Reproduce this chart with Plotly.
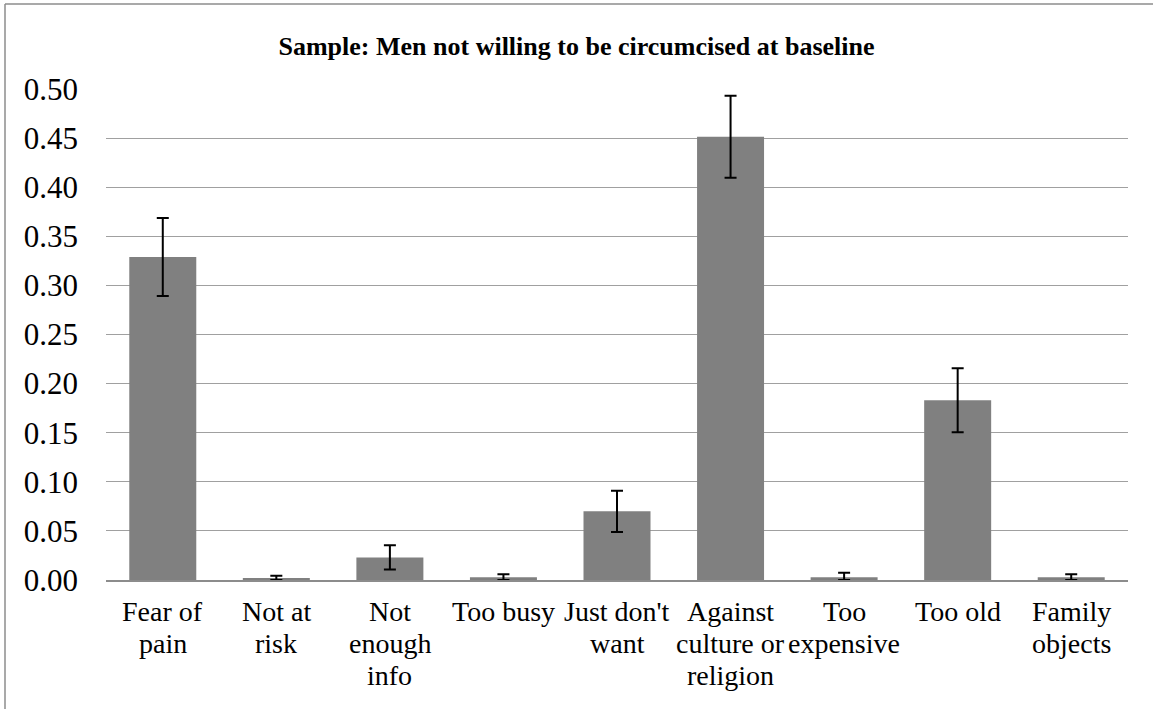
import plotly.graph_objects as go

categories = ["Fear of\npain", "Not at\nrisk", "Not\nenough\ninfo", "Too busy", "Just don't\nwant",
              "Against\nculture or\nreligion", "Too\nexpensive", "Too old", "Family\nobjects"]
values = [0.329, 0.0017, 0.023, 0.0027, 0.070, 0.4514, 0.0027, 0.183, 0.0027]
err_plus = [0.0397, 0.0027, 0.0124, 0.0031, 0.0210, 0.0418, 0.0047, 0.0326, 0.0031]
err_minus = [0.0397, 0.0017, 0.0124, 0.0027, 0.0210, 0.0418, 0.0027, 0.0326, 0.0027]
y_ticks = [0.0, 0.05, 0.10, 0.15, 0.20, 0.25, 0.30, 0.35, 0.40, 0.45, 0.50]
title_text = "Sample: Men not willing to be circumcised at baseline"

FONT = "Liberation Serif, Times New Roman, serif"
xs = list(range(len(categories)))

fig = go.Figure()
fig.add_trace(go.Bar(
    x=xs, y=values,
    marker=dict(color="#808080", line=dict(width=0)),
    error_y=dict(type="data", symmetric=False, array=err_plus, arrayminus=err_minus,
                 color="black", thickness=2, width=6),
    showlegend=False, hoverinfo="skip",
))

annotations = []
for xi, lab in zip(xs, categories):
    for li, line in enumerate(lab.split("\n")):
        annotations.append(dict(
            x=xi, y=0, xref="x", yref="paper", text=line, showarrow=False,
            xanchor="center", yanchor="top", yshift=-(14 + 32 * li),
            font=dict(family=FONT, size=28, color="black"),
        ))

fig.update_layout(
    width=1153, height=709,
    margin=dict(l=106, r=25, t=89, b=129),
    paper_bgcolor="white", plot_bgcolor="white",
    bargap=0.41,
    title=dict(text="<b>" + title_text + "</b>", x=0.5, xanchor="center",
               y=1 - 46 / 709, yanchor="middle", yref="container",
               font=dict(family=FONT, size=26, color="black")),
    xaxis=dict(range=[-0.5, len(categories) - 0.5], showticklabels=False, ticks="",
               showgrid=False, showline=True, linecolor="#8c8c8c", linewidth=1.5,
               zeroline=False),
    yaxis=dict(range=[0, 0.5], tickvals=y_ticks, ticktext=[f"{v:.2f}" for v in y_ticks],
               tickfont=dict(family=FONT, size=31, color="black"),
               showgrid=True, gridcolor="#a0a0a0", gridwidth=1.2, zeroline=False,
               showline=False, ticks="", ticklabelstandoff=27),
    annotations=annotations,
    shapes=[
        dict(type="line", xref="paper", yref="paper", x0=(5 - 106) / 1022, x1=1.2,
             y0=(580 - 4) / 491, y1=(580 - 4) / 491, line=dict(color="#8c8c8c", width=1.5)),
        dict(type="line", xref="paper", yref="paper", x0=(5 - 106) / 1022, x1=(5 - 106) / 1022,
             y0=(580 - 4) / 491, y1=-0.5, line=dict(color="#8c8c8c", width=1.5)),
    ],
)

fig.write_html("out.html", config={"displayModeBar": False},
               post_script="document.body.style.margin='0px';document.body.style.overflow='hidden';")
